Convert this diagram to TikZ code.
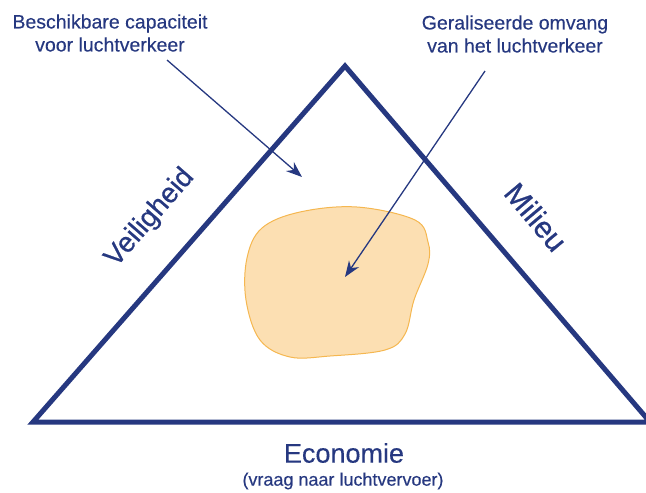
\documentclass[tikz,border=0pt]{standalone}
\usepackage{fontspec}
\setmainfont[FakeBold=0.3]{Liberation Sans}
\newfontfamily\sidefont[FakeBold=0.6]{Liberation Sans}
\usetikzlibrary{arrows.meta}
\definecolor{navy}{RGB}{38,56,128}
\definecolor{sandfill}{RGB}{252,223,178}
\definecolor{sandline}{RGB}{245,183,80}
\tikzset{
  side/.style={navy,font=\sidefont\fontsize{28}{30}\selectfont},
  note/.style={navy,align=center,font=\fontsize{19.5}{23}\selectfont},
  pointer/.style={navy,line width=1.3pt,-{Stealth[length=16pt,width=12pt]}}
}

\begin{document}
\begin{tikzpicture}[x=1pt,y=-1pt]
\useasboundingbox (0,0) rectangle (646,493);
\coordinate (top) at (345,66);
\coordinate (bl) at (33,422);
\coordinate (br) at (650,422);
% area of the air traffic
\fill[sandfill,draw=sandline,line width=1pt] plot[smooth cycle,tension=0.6] coordinates {
  (357,207) (415,220) (428,242) (428,264) (414,300) (405,334)
  (385,350) (330,356) (290,357) (260,340) (246,300) (247,258)
  (262,228) (300,212)};
\draw[navy,line width=5pt,line join=miter] (top)--(bl)--(br)--cycle;
\node[side,rotate=49] (veilig) at (150,218) {Veiligheid};
\node[side,rotate=-50,font=\sidefont\fontsize{30}{32}\selectfont] (milieu) at (536,217) {Milieu};
\node[navy,font=\fontsize{27}{30}\selectfont] (econ) at (344,453) {Economie};
\node[navy,font=\fontsize{18}{21}\selectfont] (vraag) at (343,481) {(vraag naar luchtvervoer)};
\node[note] (cap) at (110,33) {Beschikbare capaciteit\\voor luchtverkeer};
\node[note] (omv) at (515,34) {Geraliseerde omvang\\van het luchtverkeer};
\coordinate (capfrom) at (167,60);
\coordinate (capto) at (302,177);
\coordinate (omvfrom) at (485,71);
\coordinate (omvto) at (345,277);
\draw[pointer] (capfrom)--(capto);
\draw[pointer] (omvfrom)--(omvto);
\end{tikzpicture}
\end{document}
